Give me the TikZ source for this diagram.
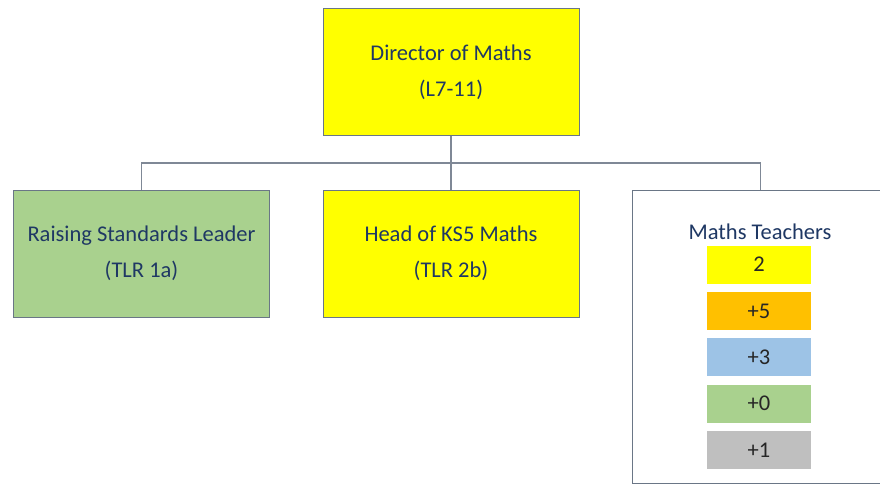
\documentclass[tikz,border=0pt]{standalone}
\usepackage{fontspec}
\setmainfont{Carlito}
\usetikzlibrary{positioning}
\definecolor{roleyellow}{HTML}{FFFF00}
\definecolor{rolegreen}{HTML}{A9D18E}
\definecolor{roleorange}{HTML}{FFC000}
\definecolor{roleblue}{HTML}{9DC3E6}
\definecolor{rolegray}{HTML}{BFBFBF}
\definecolor{edgeline}{HTML}{6A7686}
\definecolor{linkline}{HTML}{7F8896}
\definecolor{navytext}{HTML}{1F3864}
\begin{document}
\begin{tikzpicture}[
    x=1pt, y=-1pt,
    font=\fontsize{22.5}{36}\selectfont,
    role/.style={rectangle, draw=edgeline, line width=1pt, minimum width=256pt,
                 minimum height=127pt, align=center, text=navytext, inner sep=0pt},
    count/.style={rectangle, minimum width=104pt, minimum height=38pt,
                  inner sep=0pt, text=black!85},
    link/.style={draw=linkline, line width=1.2pt}
  ]
  \useasboundingbox (0,0) rectangle (880,484);
  % ----- Top: director -----
  \node[role, fill=roleyellow] (dir) at (451,72) {Director of Maths\\(L7-11)};
  % ----- Second row -----
  \node[role, fill=rolegreen]  (rsl) at (141.5,253.5) {Raising Standards Leader\\(TLR 1a)};
  \node[role, fill=roleyellow] (ks5) at (451,253.5) {Head of KS5 Maths\\(TLR 2b)};
  \node[role, fill=white, minimum height=293pt, anchor=north west] (teach) at (632,190) {};
  \coordinate (bus) at (451,163);
  \draw[link] (dir.south) -- (bus);
  \draw[link] (bus) -- (ks5.north);
  \draw[link] (rsl.north) |- (bus) -| (teach.north);

  % ----- Teacher counts -----
  \node[text=navytext] (tlabel) at (760,232) {Maths Teachers};
  \node[count, fill=roleyellow] (c1) at (759,264.5) {2};
  \node[count, fill=roleorange, below=8pt of c1] (c2) {+5};
  \node[count, fill=roleblue,   below=8pt of c2] (c3) {+3};
  \node[count, fill=rolegreen,  below=8pt of c3] (c4) {+0};
  \node[count, fill=rolegray,   below=8pt of c4] (c5) {+1};
\end{tikzpicture}
\end{document}
